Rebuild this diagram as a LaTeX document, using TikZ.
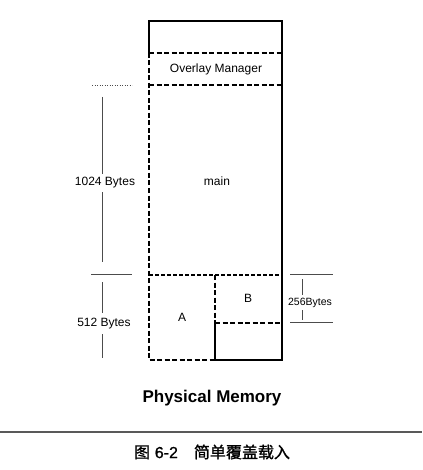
\documentclass[tikz,border=0pt]{standalone}
\usepackage{fontspec}
\setmainfont{Liberation Sans}
\newfontfamily\cjk[FakeBold=1.2]{Noto Sans CJK SC}
\newfontfamily\capfont[FakeBold=0.8]{Liberation Sans}
\begin{document}
\begin{tikzpicture}[x=1pt,y=-1pt,
  solidln/.style={line width=1.5pt, line cap=rect},
  dashln/.style={line width=1.5pt, dash pattern=on 5pt off 2.5pt},
  dimln/.style={line width=0.5pt, black!70},
  lbl/.style={font=\fontsize{12}{14}\selectfont, inner sep=0pt}]
\useasboundingbox (0,0) rectangle (422,470);
\fill[white] (0,0) rectangle (422,470);
% coordinates of the memory block
\coordinate (tl) at (149,21);
\coordinate (tr) at (282,21);
\coordinate (ol) at (149,53);
\coordinate (or) at (282,53);
\coordinate (ml) at (149,85);
\coordinate (mr) at (282,85);
\coordinate (al) at (149,275);
\coordinate (ar) at (282,275);
\coordinate (dv) at (215,275);
\coordinate (bl) at (149,360);
\coordinate (br) at (282,360);
\coordinate (db) at (215,360);
\coordinate (bm) at (215,323);
\coordinate (bmr) at (282,323);
% outer lines
\draw[solidln] (ol) -- (tl) -- (tr) -- (br) -- (db);
\draw[dashln] (ol) -- (bl) -- (db);
\draw[dashln] (ol) -- (or);
\draw[dashln] (ml) -- (mr);
\draw[dashln, line width=1.2pt, dash pattern=on 4pt off 2pt] (al) -- (ar);
\draw[dashln] (dv) -- (bm);
\draw[solidln, line cap=butt] (bm) -- (db);
\draw[dashln] (bm) -- (bmr);
% texts
\node[lbl] (om) at (216,69) {Overlay Manager};
\node[lbl] (main) at (217,181) {main};
\node[lbl] (a) at (182,317) {A};
\node[lbl] (b) at (248,298) {B};
\node[lbl] (k1) at (105,183) {1024 Bytes};
\node[lbl] (k2) at (104,324) {512 Bytes};
\node[lbl, font=\fontsize{10.5}{12}\selectfont] (k3) at (310,303) {256Bytes};
% left dimension lines
\coordinate (d1a) at (92,85);
\coordinate (d1b) at (132,85);
\coordinate (d2a) at (91,274);
\coordinate (d2b) at (132,274);
\draw[dimln, dotted] (d1a) -- (d1b);
\draw[dimln] (d2a) -- (d2b);
\coordinate (v1) at (102,97);
\coordinate (v1e) at (102,174);
\coordinate (v2s) at (102,192);
\coordinate (v2) at (102,262);
\draw[dimln] (v1) -- (v1e);
\draw[dimln] (v2s) -- (v2);
\coordinate (v3) at (102,282);
\coordinate (v3e) at (102,313);
\coordinate (v4s) at (102,334);
\coordinate (v4) at (102,358);
\draw[dimln] (v3) -- (v3e);
\draw[dimln] (v4s) -- (v4);
% right dimension lines
\coordinate (r1a) at (290,274);
\coordinate (r1b) at (333,274);
\coordinate (r2a) at (290,322);
\coordinate (r2b) at (333,322);
\draw[dimln] (r1a) -- (r1b);
\draw[dimln] (r2a) -- (r2b);
\coordinate (rv1) at (302,279);
\coordinate (rv1e) at (302,295);
\coordinate (rv2s) at (302,310);
\coordinate (rv2) at (302,320);
\draw[dimln] (rv1) -- (rv1e);
\draw[dimln] (rv2s) -- (rv2);
% title and caption
\node[inner sep=0pt, font=\fontsize{17}{20}\selectfont\bfseries] (pm) at (212,398) {Physical Memory};
\coordinate (la) at (0,432);
\coordinate (lb) at (422,432);
\draw[line width=1.3pt, black!65] (la) -- (lb);
\node[inner sep=0pt, font=\fontsize{16}{18}\selectfont\capfont] (cap) at (212,452) {{\cjk 图}\hspace{0.3em}6-2\hspace{1em}{\cjk 简单覆盖载入}};
\end{tikzpicture}
\end{document}
